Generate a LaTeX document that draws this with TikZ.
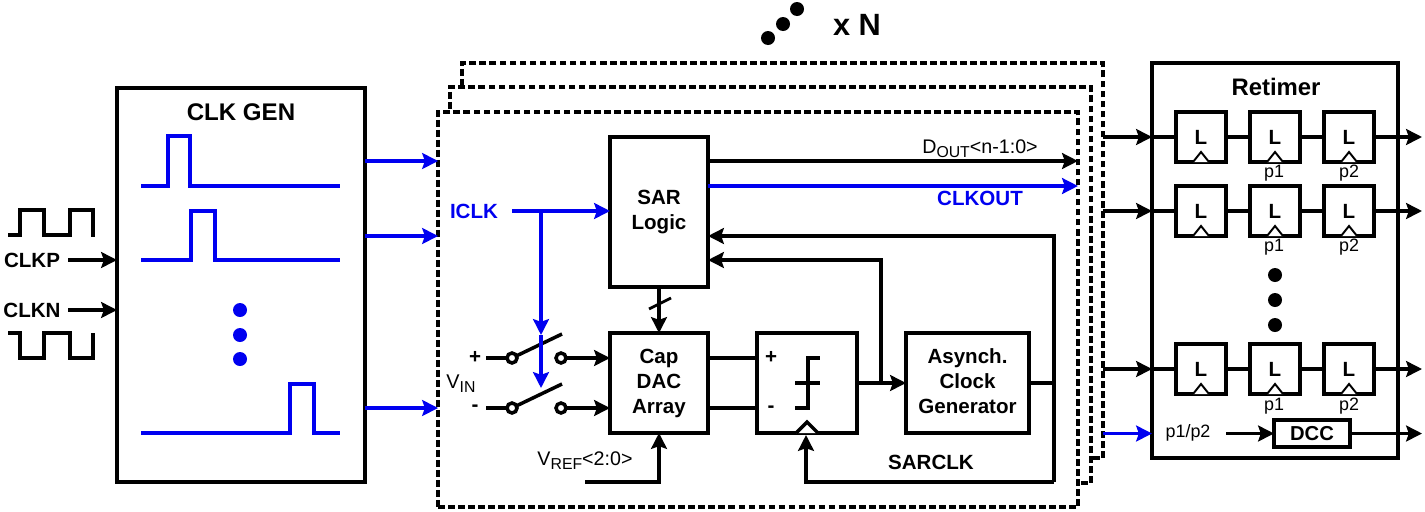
\documentclass[tikz,border=0pt]{standalone}
\usepackage{fontspec}
\setmainfont{Liberation Sans}
\usepackage{tikz}
\usetikzlibrary{arrows.meta}

\newcommand{\lowtext}[1]{\raisebox{-0.4ex}{\small #1}}

\tikzset{
    block/.style={draw, line width=2.2pt, fill=white, inner sep=0pt, outer sep=0pt, align=center, font=\fontsize{11.7}{14.2}\selectfont\bfseries,
        execute at begin node=\rule{0pt}{10pt}, execute at end node=\rule[-1.8pt]{0pt}{1.8pt}},
    textblock/.style={block, execute at begin node=\rule{0pt}{11.7pt}},
    frame/.style={draw, line width=2.3pt, fill=white, inner sep=0pt, outer sep=0pt, dash pattern=on 3.9pt off 1.8pt},
    latch/.style={block, line width=2pt, minimum width=1cm, minimum height=1cm},
    label/.style={inner sep=0pt, font=\fontsize{11.7}{12}\selectfont\bfseries},
    phase/.style={inner sep=0pt, font=\fontsize{10.2}{12}\selectfont},
    terminal/.style={draw, circle, line width=2pt, minimum size=0.2cm, inner sep=0pt, outer sep=0pt},
    wire/.style={line width=2pt},
    arrow/.style={wire, -{Stealth[length=9pt, width=9pt, inset=1.5pt]}},
    bluewire/.style={wire, color=sigblue},
    bluearrow/.style={arrow, color=sigblue},
    clockmark/.style={line width=1.1pt, fill=white}
}
\definecolor{sigblue}{RGB}{0,0,240}

\begin{document}
\begin{tikzpicture}[x=0.02cm, y=-0.02cm]

    \useasboundingbox (0,0) rectangle (1425,511);

    % stacked slices
    \node[frame, minimum width=12.82cm, minimum height=7.9cm] (rearframe) at (782.5,260.5) {};
    \node[frame, minimum width=12.82cm, minimum height=7.92cm] (midframe) at (770.5,285) {};
    \node[frame, minimum width=12.8cm, minimum height=7.9cm] (frontframe) at (758,309.5) {};

    \fill (768,38) circle (7);
    \fill (783,24) circle (7);
    \fill (797,9) circle (7);
    \node[inner sep=0pt, font=\fontsize{17.5}{18}\selectfont\bfseries] (copies) at (857,25) {x N};

    % clock generator
    \node[block, minimum width=4.96cm, minimum height=7.88cm] (clkgen) at (241,285) {};
    \node[label, font=\fontsize{13.7}{14}\selectfont\bfseries] (clkgentitle) at (241,112) {CLK GEN};

    \draw[bluewire] (141,186) -- (168,186) -- (168,136) -- (190,136) -- (190,186) -- (340,186);
    \draw[bluewire] (141,260) -- (191,260) -- (191,211) -- (215,211) -- (215,260) -- (340,260);
    \draw[bluewire] (141,433) -- (290,433) -- (290,384) -- (314,384) -- (314,433) -- (340,433);
    \fill[color=sigblue] (240,310) circle (7);
    \fill[color=sigblue] (240,335) circle (7);
    \fill[color=sigblue] (240,359) circle (7);

    \draw[wire] (8,235) -- (20,235) -- (20,210) -- (44,210) -- (44,235) -- (70,235) -- (70,210) -- (93,210) -- (93,237);
    \draw[wire] (8,333) -- (20,333) -- (20,358) -- (44,358) -- (44,333) -- (70,333) -- (70,358) -- (93,358) -- (93,333);
    \node[label] (clkp) at (32,260) {CLKP};
    \node[label] (clkn) at (32,310) {CLKN};
    \draw[arrow] (68,260) -- (clkgen.west |- 0,260);
    \draw[arrow] (68,310) -- (clkgen.west |- 0,310);

    \draw[bluearrow] (clkgen.east |- 0,161) -- (frontframe.west |- 0,161);
    \draw[bluearrow] (clkgen.east |- 0,236) -- (frontframe.west |- 0,236);
    \draw[bluearrow] (clkgen.east |- 0,408) -- (frontframe.west |- 0,408);

    % slice blocks
    \node[textblock, minimum width=1.96cm, minimum height=3cm] (sar) at (659,212) {SAR\\Logic};
    \node[textblock, minimum width=1.96cm, minimum height=2cm] (dac) at (659,383) {Cap\\DAC\\Array};
    \node[block, minimum width=2cm, minimum height=2cm] (comp) at (807,383) {};
    \node[textblock, minimum width=2.46cm, minimum height=2cm] (async) at (967.5,383) {Asynch.\\Clock\\Generator};

    \node[label, text=sigblue] (iclk) at (474,211) {ICLK};
    \coordinate (iclktap) at (541,211);
    \draw[bluearrow] (512,211) -- (sar.west |- iclktap);

    % sampling switches
    \coordinate (plusin) at (486,358);
    \coordinate (minusin) at (486,408);
    \node[label] (plus) at (475,357) {+};
    \node[label] (minus) at (475,408) {-};
    \node[label, font=\fontsize{11.3}{12}\selectfont] (vin) at (461,384) {V\lowtext{IN}};
    \node[terminal] (plusa) at (512,358) {};
    \node[terminal] (plusb) at (561,358) {};
    \node[terminal] (minusa) at (512,408) {};
    \node[terminal] (minusb) at (561,408) {};
    \coordinate (plustip) at (562,334);
    \coordinate (minustip) at (562,384);
    \draw[wire] (plusin) -- (plusa);
    \draw[wire] (minusin) -- (minusa);
    \draw[wire] (plusa) -- (plustip);
    \draw[wire] (minusa) -- (minustip);
    \draw[arrow] (plusb) -- (dac.west |- plusb);
    \draw[arrow] (minusb) -- (dac.west |- minusb);

    \draw[bluearrow] (iclktap) -- (541,335);
    \draw[bluearrow] (541,335) -- (541,388);

    % reference input
    \node[label, font=\fontsize{11.2}{12}\selectfont] (vref) at (585,461) {V\lowtext{REF}<2:0>};
    \coordinate (vrefin) at (585,482);
    \draw[arrow] (vrefin) -- (dac.south |- vrefin) -- (dac.south);

    % data bus to the DAC
    \draw[arrow] (sar.south) -- (dac.north);
    \draw[wire, line width=1.6pt] (649,309) -- (671,298);

    % comparator
    \draw[wire] (dac.east |- 0,358) -- (comp.west |- 0,358);
    \draw[wire] (dac.east |- 0,408) -- (comp.west |- 0,408);
    \node[label] (compplus) at (771,357) {+};
    \node[label] (compminus) at (771,409) {-};
    \draw[wire] (795,408) -- (808,408) -- (808,358) -- (820,358);
    \draw[wire] (795,383) -- (820,383);
    \draw[wire, fill=white] (796,433) -- (807,422) -- (818,433);

    % loop
    \coordinate (comptap) at (881,383);
    \draw[arrow] (comp.east) -- (async.west);
    \draw[arrow] (comptap) -- (881,260) -- (sar.east |- 0,260);
    \coordinate (looptop) at (1054,236);
    \coordinate (loopbot) at (1054,482);
    \draw[wire] (async.east) -- (async.east -| loopbot);
    \draw[arrow] (loopbot) -- (looptop) -- (sar.east |- looptop);
    \draw[arrow] (loopbot) -- (806,482) -- (806,435);
    \node[label] (sarclk) at (931,462) {SARCLK};

    % slice outputs
    \draw[arrow] (sar.east |- 0,161) -- (frontframe.east |- 0,161);
    \draw[bluearrow] (sar.east |- 0,186) -- (frontframe.east |- 0,186);
    \node[label, font=\fontsize{11.2}{12}\selectfont] (dout) at (980,149) {D\lowtext{OUT}<n-1:0>};
    \node[label, text=sigblue] (clkout) at (980,198) {CLKOUT};

    % retimer
    \node[block, minimum width=4.92cm, minimum height=7.9cm] (retimer) at (1275,260.5) {};
    \node[label, font=\fontsize{13.6}{14}\selectfont\bfseries] (retimertitle) at (1276,87) {Retimer};

    \node[latch] (la) at (1201,137) {L};
    \node[latch] (lb) at (1275,137) {L};
    \node[latch] (lc) at (1349,137) {L};
    \node[latch] (ld) at (1201,211) {L};
    \node[latch] (le) at (1275,211) {L};
    \node[latch] (lf) at (1349,211) {L};
    \node[latch] (lg) at (1201,369) {L};
    \node[latch] (lh) at (1275,369) {L};
    \node[latch] (li) at (1349,369) {L};

    \draw[clockmark] (1193,162) -- (1201,152) -- (1209,162);
    \draw[clockmark] (1267,162) -- (1275,152) -- (1283,162);
    \draw[clockmark] (1341,162) -- (1349,152) -- (1357,162);
    \draw[clockmark] (1193,236) -- (1201,226) -- (1209,236);
    \draw[clockmark] (1267,236) -- (1275,226) -- (1283,236);
    \draw[clockmark] (1341,236) -- (1349,226) -- (1357,236);
    \draw[clockmark] (1193,394) -- (1201,384) -- (1209,394);
    \draw[clockmark] (1267,394) -- (1275,384) -- (1283,394);
    \draw[clockmark] (1341,394) -- (1349,384) -- (1357,394);

    \draw[arrow] (rearframe.east |- la) -- (retimer.west |- la);
    \draw[arrow] (rearframe.east |- ld) -- (retimer.west |- ld);
    \draw[arrow] (rearframe.east |- lg) -- (retimer.west |- lg);
    \draw[wire] (retimer.west |- la) -- (la);
    \draw[wire] (retimer.west |- ld) -- (ld);
    \draw[wire] (retimer.west |- lg) -- (lg);
    \draw[wire] (la) -- (lb);
    \draw[wire] (lb) -- (lc);
    \draw[wire] (ld) -- (le);
    \draw[wire] (le) -- (lf);
    \draw[wire] (lg) -- (lh);
    \draw[wire] (lh) -- (li);
    \draw[arrow] (lc) -- (1422,137);
    \draw[arrow] (lf) -- (1422,211);
    \draw[arrow] (li) -- (1422,369);

    \node[phase] (pa) at (1274,173) {p1};
    \node[phase] (pb) at (1349,173) {p2};
    \node[phase] (pc) at (1274,247) {p1};
    \node[phase] (pd) at (1349,247) {p2};
    \node[phase] (pe) at (1274,406) {p1};
    \node[phase] (pf) at (1349,406) {p2};

    \fill (1275,275) circle (7);
    \fill (1275,300) circle (7);
    \fill (1275,325) circle (7);

    \node[block, minimum width=1.52cm, minimum height=0.54cm, font=\fontsize{11.5}{14}\selectfont\bfseries] (dcc) at (1312,433.5) {DCC};
    \node[phase] (pclk) at (1188,433) {p1/p2};
    \coordinate (pclkout) at (1226,433.5);
    \draw[bluearrow] (rearframe.east |- dcc) -- (retimer.west |- dcc);
    \draw[arrow] (pclkout) -- (dcc.west);
    \draw[arrow] (dcc.east) -- (1422,433.5);

\end{tikzpicture}
\end{document}
